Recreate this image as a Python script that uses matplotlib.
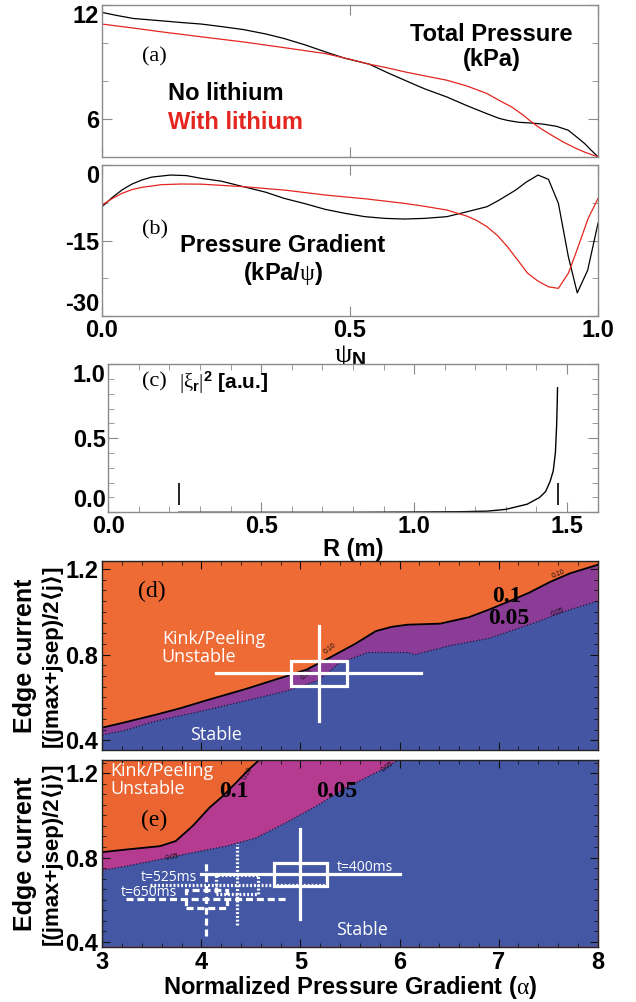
import numpy as np
import matplotlib
matplotlib.use("Agg")
import matplotlib.pyplot as plt
from matplotlib.patches import Rectangle
from matplotlib.ticker import MultipleLocator, FixedLocator, NullFormatter

plt.rcParams['font.family'] = ['Liberation Sans', 'DejaVu Sans']
plt.rcParams['axes.unicode_minus'] = False
plt.rcParams['mathtext.fontset'] = 'custom'
plt.rcParams['mathtext.rm'] = 'Liberation Serif'
plt.rcParams['mathtext.it'] = 'Liberation Serif:italic'
plt.rcParams['mathtext.bf'] = 'Liberation Sans:bold'

# (a) total pressure (kPa) vs psi_N
psi_no = [0, 0.03, 0.064, 0.12, 0.16, 0.2, 0.24, 0.285, 0.33, 0.367, 0.41, 0.45,
          0.49, 0.539, 0.575, 0.61, 0.65, 0.695, 0.735, 0.776, 0.8, 0.817, 0.84,
          0.866, 0.89, 0.916, 0.94, 0.96, 0.973, 0.985, 1.0]
p_no = [11.61, 11.45, 11.29, 11.17, 11.08, 11.0, 10.87, 10.71, 10.48, 10.24,
        9.9, 9.54, 9.2, 8.89, 8.45, 8.05, 7.6, 7.17, 6.72, 6.29, 6.05, 5.94,
        5.84, 5.80, 5.74, 5.63, 5.42, 5.0, 4.72, 4.4, 4.02]
psi_li = [0, 0.06, 0.12, 0.2, 0.285, 0.37, 0.45, 0.5, 0.539, 0.575, 0.61, 0.65,
          0.695, 0.735, 0.776, 0.8, 0.826, 0.85, 0.866, 0.885, 0.907, 0.93,
          0.957, 0.975, 1.0]
p_li = [11.0, 10.8, 10.59, 10.33, 10.06, 9.75, 9.45, 9.15, 8.89, 8.7, 8.49,
        8.28, 8.05, 7.75, 7.35, 7.0, 6.64, 6.2, 5.85, 5.5, 5.15, 4.8, 4.45,
        4.25, 4.02]

# (b) pressure gradient (kPa/psi)
psi_g_no = [0, 0.02, 0.04, 0.06, 0.08, 0.1, 0.138, 0.17, 0.2, 0.24, 0.285, 0.33,
            0.367, 0.41, 0.45, 0.49, 0.53, 0.57, 0.61, 0.65, 0.695, 0.735, 0.776,
            0.8, 0.834, 0.855, 0.879, 0.9, 0.92, 0.94, 0.958, 0.979, 1.0]
g_no = [-8.28, -6.5, -4.97, -3.8, -2.98, -2.4, -1.99, -2.1, -2.65, -3.2, -4.30,
        -5.4, -6.62, -7.7, -8.81, -9.6, -10.26, -10.6, -10.73, -10.6, -10.26,
        -9.3, -8.28, -7.0, -4.97, -3.4, -1.99, -2.85, -7.62, -18.2, -25.4,
        -20.9, -11.5]
psi_g_li = [0, 0.02, 0.04, 0.06, 0.08, 0.12, 0.16, 0.2, 0.285, 0.37, 0.45, 0.53,
            0.61, 0.65, 0.695, 0.735, 0.755, 0.776, 0.797, 0.817, 0.838, 0.858,
            0.878, 0.9, 0.92, 0.94, 0.957, 0.98, 1.0]
g_li = [-7.95, -6.7, -5.63, -4.9, -4.44, -3.9, -3.77, -3.8, -4.30, -5.0, -5.96,
        -6.7, -7.62, -8.2, -8.94, -10.13, -11.0, -12.25, -14.0, -16.2, -18.9,
        -21.5, -23.0, -24.2, -24.5, -21.5, -17.0, -10.6, -6.62]

# (c) mode structure |xi_r|^2 vs R
R_xi = [0.23, 0.5, 0.8, 1.0, 1.15, 1.24, 1.30, 1.37, 1.41, 1.43, 1.445, 1.455,
        1.462, 1.466, 1.468, 1.469]
xi2 = [0.0, 0.0, 0.0, 0.002, 0.004, 0.008, 0.02, 0.055, 0.10, 0.14, 0.21, 0.28,
       0.40, 0.58, 0.74, 0.84]
R_marks = [0.23, 1.471]
mark_lo, mark_hi = 0.05, 0.2

# (d) stability boundaries (growth rate contours 0.1 and 0.05)
d_a10 = [3.0, 3.22, 3.545, 3.79, 4.04, 4.45, 4.86, 5.06, 5.27, 5.55, 5.76, 5.92,
         6.08, 6.41, 6.70, 6.9, 7.11, 7.31, 7.52, 7.72, 8.0]
d_j10 = [0.459, 0.483, 0.52, 0.55, 0.585, 0.64, 0.70, 0.73, 0.78, 0.85, 0.91,
         0.93, 0.94, 0.945, 0.975, 1.01, 1.05, 1.09, 1.14, 1.18, 1.22]
d_a05 = [3.0, 3.22, 3.545, 4.04, 4.45, 4.86, 5.18, 5.39, 5.68, 5.80, 6.08, 6.16,
         6.49, 6.9, 7.31, 7.72, 8.0]
d_j05 = [0.425, 0.445, 0.49, 0.54, 0.585, 0.63, 0.68, 0.76, 0.81, 0.81, 0.81,
         0.80, 0.84, 0.876, 0.94, 1.01, 1.05]
d_point = (5.185, 0.712)
d_err = (1.035, 0.221)
d_box = (0.285, 0.057)

# (e) boundaries after lithium
e_a10 = [3.0, 3.24, 3.58, 3.74, 3.91, 4.08, 4.215, 4.35, 4.48, 4.59]
e_j10 = [0.826, 0.838, 0.854, 0.878, 0.949, 1.036, 1.091, 1.155, 1.218, 1.265]
e_a05 = [3.0, 3.24, 3.58, 3.91, 4.25, 4.55, 4.82, 5.16, 5.49, 5.83, 6.0]
e_j05 = [0.740, 0.759, 0.791, 0.823, 0.854, 0.893, 0.957, 1.044, 1.138, 1.218, 1.265]

shots = ['t=400ms', 't=525ms', 't=650ms']
shot_a = [5.0, 4.36, 4.05]
shot_j = [0.72, 0.672, 0.603]
shot_da = [1.0, 0.88, 0.81]
shot_dj = [0.213, 0.19, 0.175]
box_da = [0.265, 0.215, 0.21]
box_dj = [0.053, 0.045, 0.042]
shot_ls = ['-', (0, (0.6, 0.6)), (0, (2.2, 1.2))]
shot_lab_a = [5.37, 3.39, 3.19]
shot_lab_j = [0.752, 0.704, 0.633]

ORANGE_D, PURPLE_D, BLUE_D = '#EF6B36', '#8B3C96', '#4455A3'
ORANGE_E, PURPLE_E, BLUE_E = '#EB6532', '#B43B90', '#4357A5'
RED = '#E3261F'
GRAY = '#8a8a8a'
TICK = 17

fig = plt.figure(figsize=(6.36, 10.02), dpi=100)
ax_a = fig.add_axes([0.1604, 0.843, 0.780, 0.152])
ax_b = fig.add_axes([0.1604, 0.6846, 0.780, 0.1507])
ax_c = fig.add_axes([0.1703, 0.4887, 0.7693, 0.148])
ax_d = fig.add_axes([0.161, 0.251, 0.7787, 0.1896])
ax_e = fig.add_axes([0.161, 0.0552, 0.7787, 0.1863])


def style_gray(ax):
    for s in ax.spines.values():
        s.set_color(GRAY)
        s.set_linewidth(1.0)
    ax.tick_params(which='both', direction='in', top=True, right=True,
                   color=GRAY, labelsize=TICK, pad=2)
    ax.tick_params(which='major', length=7)
    ax.tick_params(which='minor', length=4)
    for lab in ax.get_xticklabels() + ax.get_yticklabels():
        lab.set_fontweight('bold')


def keep_inside(ax):
    # end labels pushed inside the axis range, as in the original
    ticks = ax.yaxis.get_major_ticks()
    ticks[0].label1.set_va('bottom')
    ticks[-1].label1.set_va('top')


# ---- (a)
ax_a.plot(psi_no, p_no, color='black', lw=0.9)
ax_a.plot(psi_li, p_li, color=RED, lw=0.9)
ax_a.set_xlim(0, 1)
ax_a.set_ylim(4, 12)
ax_a.xaxis.set_major_locator(MultipleLocator(0.5))
ax_a.xaxis.set_major_formatter(NullFormatter())
ax_a.yaxis.set_major_locator(FixedLocator([6, 12]))
ax_a.yaxis.set_minor_locator(FixedLocator([8, 10]))
style_gray(ax_a)
ax_a.yaxis.get_major_ticks()[-1].label1.set_va('top')
ax_a.text(0.08, 9.3, '(a)', family='Liberation Serif', fontsize=16, va='center')
ax_a.text(0.785, 9.8, 'Total Pressure\n(kPa)', ha='center', va='center',
          fontsize=17, fontweight='bold', linespacing=1.15)
ax_a.text(0.133, 7.37, 'No lithium', ha='left', va='center', fontsize=17,
          fontweight='bold', color='black')
ax_a.text(0.133, 5.84, 'With lithium', ha='left', va='center', fontsize=17,
          fontweight='bold', color=RED)

# ---- (b)
ax_b.plot(psi_g_no, g_no, color='black', lw=0.9)
ax_b.plot(psi_g_li, g_li, color=RED, lw=0.9)
ax_b.set_xlim(0, 1)
ax_b.set_ylim(-30, 0)
ax_b.xaxis.set_major_locator(MultipleLocator(0.5))
ax_b.yaxis.set_major_locator(FixedLocator([-30, -15, 0]))
ax_b.yaxis.set_minor_locator(FixedLocator([-22.5, -7.5]))
style_gray(ax_b)
keep_inside(ax_b)
ax_b.set_xlabel(r'$\mathrm{\psi}_{\mathbf{N}}$', fontsize=20, labelpad=1)
ax_b.text(0.08, -12.9, '(b)', family='Liberation Serif', fontsize=16, va='center')
ax_b.text(0.365, -19.0, 'Pressure Gradient\n(kPa/$\\mathrm{\\psi}$)',
          ha='center', va='center', fontsize=17, fontweight='bold',
          linespacing=1.15)

# ---- (c)
ax_c.plot(R_xi, xi2, color='black', lw=1.0)
ax_c.vlines(R_marks, mark_lo, mark_hi, color='black', lw=1.2)
ax_c.set_xlim(0, 1.6)
ax_c.set_ylim(0, 1.0)
ax_c.xaxis.set_major_locator(MultipleLocator(0.5))
ax_c.xaxis.set_minor_locator(MultipleLocator(0.1))
ax_c.yaxis.set_major_locator(FixedLocator([0, 0.5, 1.0]))
ax_c.yaxis.set_minor_locator(MultipleLocator(0.1))
style_gray(ax_c)
keep_inside(ax_c)
ax_c.set_xlabel('R (m)', fontsize=17, fontweight='bold', labelpad=0)
ax_c.text(0.11, 0.88, '(c)', family='Liberation Serif', fontsize=16,
          va='center')
ax_c.text(0.23, 0.87, r'$|\mathrm{\xi}_{\mathbf{r}}|^{\mathbf{2}}$ [a.u.]',
          fontsize=15, fontweight='bold', va='center')


# ---- (d), (e) stability diagrams
def region(ax, a, j, color, x1, ylo):
    xs = list(a) + [x1, x1, a[0]]
    ys = list(j) + [j[-1], ylo, ylo]
    ax.fill(xs, ys, color=color, lw=0, zorder=1)


def style_black(ax, ylo, yhi):
    ax.set_xlim(3, 8)
    ax.set_ylim(ylo, yhi)
    ax.xaxis.set_major_locator(MultipleLocator(1))
    ax.xaxis.set_minor_locator(MultipleLocator(0.2))
    ax.yaxis.set_major_locator(FixedLocator([0.4, 0.8, 1.2]))
    ax.yaxis.set_minor_locator(MultipleLocator(0.05))
    for s in ax.spines.values():
        s.set_color('#222222')
        s.set_linewidth(1.0)
        s.set_zorder(5)
    ax.tick_params(which='both', direction='in', top=True, right=True,
                   color='#111111', labelsize=TICK, pad=3)
    ax.tick_params(which='major', length=6)
    ax.tick_params(which='minor', length=3)
    for lab in ax.get_xticklabels() + ax.get_yticklabels():
        lab.set_fontweight('bold')


def ylabel(ax):
    ax.text(-0.156, 0.5, 'Edge current', transform=ax.transAxes, rotation=90,
            ha='center', va='center', fontsize=18, fontweight='bold')
    ax.text(-0.102, 0.5, '[(jmax+jsep)/2\u27e8j\u27e9]', transform=ax.transAxes,
            rotation=90, ha='center', va='center', fontsize=16,
            fontweight='bold', family=['Liberation Sans', 'DejaVu Sans'])


def crosshair(ax, a, j, da, dj, ba, bj, ls, lw):
    ax.plot([a - da, a + da], [j, j], color='white', lw=lw, ls=ls, zorder=4)
    ax.plot([a, a], [j - dj, j + dj], color='white', lw=lw, ls=ls, zorder=4)
    ax.add_patch(Rectangle((a - ba, j - bj), 2 * ba, 2 * bj, fill=False,
                           ec='white', lw=lw, ls=ls, zorder=4))


ylo_d, yhi_d = 0.352, 1.24
ax_d.set_facecolor(ORANGE_D)
region(ax_d, d_a10, d_j10, PURPLE_D, 8, ylo_d)
region(ax_d, d_a05, d_j05, BLUE_D, 8, ylo_d)
ax_d.plot(d_a10, d_j10, color='black', lw=1.3, zorder=2)
ax_d.plot(d_a05, d_j05, color='#1a1a40', lw=0.9, ls=(0, (1, 1.5)), zorder=2)
crosshair(ax_d, d_point[0], d_point[1], d_err[0], d_err[1], d_box[0], d_box[1],
          '-', 2.3)
style_black(ax_d, ylo_d, yhi_d)
ax_d.set_xticklabels([])
ylabel(ax_d)
ax_d.text(3.36, 1.094, '(d)', family='Liberation Serif', fontsize=17,
          va='center')
ax_d.text(3.6, 0.829, 'Kink/Peeling\nUnstable', family='Open Sans', fontsize=13,
          color='white', va='center', linespacing=1.0)
ax_d.text(3.89, 0.425, 'Stable', family='Open Sans', fontsize=13, color='white',
          va='center')
ax_d.text(7.08, 1.071, '0.1', family='Liberation Serif', fontweight='bold',
          fontsize=17, ha='center', va='center', zorder=3)
ax_d.text(7.1, 0.97, '0.05', family='Liberation Serif', fontweight='bold',
          fontsize=17, ha='center', va='center', zorder=3)
for (xa, yj, t, r) in [(7.6, 1.175, '0.10', 22), (7.6, 1.0, '0.05', 20),
                       (5.3, 0.83, '0.10', 38), (5.07, 0.705, '0.05', 38)]:
    ax_d.text(xa, yj, t, fontsize=5, rotation=r, color='#111111', ha='center',
              va='center', zorder=3)

ylo_e, yhi_e = 0.378, 1.262
ax_e.set_facecolor(ORANGE_E)
region(ax_e, e_a10, e_j10, PURPLE_E, 8, ylo_e)
region(ax_e, e_a05, e_j05, BLUE_E, 8, ylo_e)
ax_e.plot(e_a10, e_j10, color='black', lw=1.3, zorder=2)
ax_e.plot(e_a05, e_j05, color='#1a1a40', lw=0.9, ls=(0, (1, 1.5)), zorder=2)
for i in range(len(shots)):
    crosshair(ax_e, shot_a[i], shot_j[i], shot_da[i], shot_dj[i], box_da[i],
              box_dj[i], shot_ls[i], 2.3)
    ax_e.text(shot_lab_a[i], shot_lab_j[i], shots[i], family='Open Sans',
              fontsize=10, color='white', va='center', zorder=4)
style_black(ax_e, ylo_e, yhi_e)
ylabel(ax_e)
ax_e.set_xlabel('Normalized Pressure Gradient ($\\mathrm{\\alpha}$)',
                fontsize=17, fontweight='bold', labelpad=0)
ax_e.text(3.39, 0.978, '(e)', family='Liberation Serif', fontsize=17,
          va='center')
ax_e.text(3.076, 1.167, 'Kink/Peeling\nUnstable', family='Open Sans',
          fontsize=13, color='white', va='center', linespacing=1.0)
ax_e.text(5.36, 0.459, 'Stable', family='Open Sans', fontsize=13,
          color='white', va='center')
ax_e.text(4.33, 1.115, '0.1', family='Liberation Serif', fontweight='bold',
          fontsize=17, ha='center', va='center', zorder=3)
ax_e.text(5.37, 1.115, '0.05', family='Liberation Serif', fontweight='bold',
          fontsize=17, ha='center', va='center', zorder=3)
for (xa, yj, t, r) in [(4.47, 1.2, '0.10', 60), (3.7, 0.80, '0.05', 10),
                       (5.88, 1.23, '0.05', 35)]:
    ax_e.text(xa, yj, t, fontsize=5, rotation=r, color='#111111', ha='center',
              va='center', zorder=3)

fig.savefig('out.png', dpi=100)
